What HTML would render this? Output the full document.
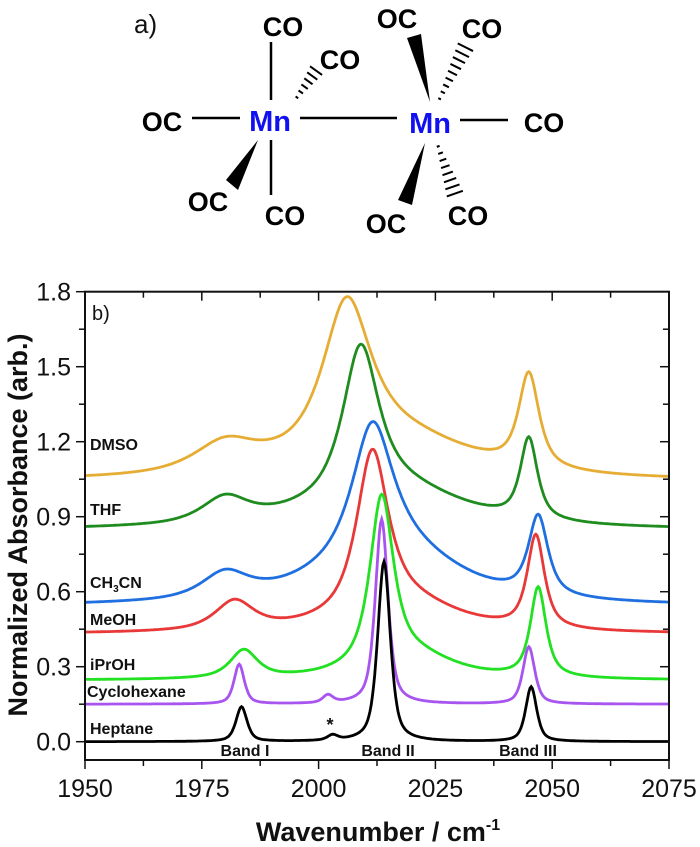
<!DOCTYPE html>
<html><head><meta charset="utf-8"><style>
body{margin:0;background:#fff;}
svg{display:block;font-family:"Liberation Sans",Arial,sans-serif;}
.m{font-size:27px;font-weight:bold;fill:#000;}
.mn{font-size:29px;font-weight:bold;fill:#1010f0;}
.s{font-size:16px;font-weight:bold;fill:#111;}
.t{font-size:25px;fill:#111;}
</style></head><body>
<svg id="sv" width="700" height="847" viewBox="0 0 700 847" xmlns="http://www.w3.org/2000/svg">
<text x="134" y="33" style="font-size:26px;fill:#111">a)</text>
<text class="m" x="283" y="36" text-anchor="middle">CO</text>
<text class="m" x="340" y="69" text-anchor="middle">CO</text>
<text class="m" x="162" y="131" text-anchor="middle">OC</text>
<text class="m" x="208" y="211" text-anchor="middle">OC</text>
<text class="m" x="285" y="225" text-anchor="middle">CO</text>
<text class="m" x="397" y="28" text-anchor="middle">OC</text>
<text class="m" x="482" y="38" text-anchor="middle">CO</text>
<text class="m" x="544" y="132" text-anchor="middle">CO</text>
<text class="m" x="386" y="233" text-anchor="middle">OC</text>
<text class="m" x="468" y="225" text-anchor="middle">CO</text>
<text class="mn" x="270" y="131" text-anchor="middle">Mn</text>
<text class="mn" x="430" y="133" text-anchor="middle">Mn</text>
<g stroke="#000" stroke-width="2.5">
<line x1="271" y1="42" x2="271" y2="100"/>
<line x1="271" y1="140" x2="271" y2="195"/>
<line x1="192" y1="118" x2="240" y2="118"/>
<line x1="300" y1="118" x2="397" y2="118"/>
<line x1="460" y1="120" x2="508" y2="120"/>
</g>
<g fill="#000">
<polygon points="258,140 226,180 238,190"/>
<polygon points="430,102 407,38 421,34"/>
<polygon points="425,143 398,200 412,205"/>
</g>
<g id="hash" stroke="#000" stroke-width="2"></g>
<g id="plot"></g>
<rect x="85" y="291.7" width="584" height="468.3" fill="none" stroke="#111" stroke-width="2"/>
<text x="92" y="320" style="font-size:20px;fill:#111">b)</text>
<text class="s" x="90" y="450">DMSO</text>
<text class="s" x="90" y="515">THF</text>
<text class="s" x="90" y="588">CH<tspan dy="4" font-size="10">3</tspan><tspan dy="-4">CN</tspan></text>
<text class="s" x="90" y="625">MeOH</text>
<text class="s" x="90" y="670">iPrOH</text>
<text class="s" x="87" y="697">Cyclohexane</text>
<text class="s" x="90" y="734">Heptane</text>
<text class="s" x="245" y="756" text-anchor="middle">Band I</text>
<text class="s" x="388" y="756" text-anchor="middle">Band II</text>
<text class="s" x="528" y="756" text-anchor="middle">Band III</text>
<text class="s" x="330" y="731" text-anchor="middle" style="font-size:18px">*</text>
<text x="27" y="525" transform="rotate(-90 27 525)" text-anchor="middle" style="font-size:27px;font-weight:bold;fill:#111">Normalized Absorbance (arb.)</text>
<text x="378" y="841" text-anchor="middle" style="font-size:27px;font-weight:bold;fill:#111">Wavenumber / cm<tspan dy="-11" font-size="16">-1</tspan></text>
</svg>
<script>
const NS="http://www.w3.org/2000/svg";
function el(t,a,p){const e=document.createElementNS(NS,t);for(const k in a)e.setAttribute(k,a[k]);p.appendChild(e);return e;}
const h=document.getElementById('hash');
function hashw(x1,y1,x2,y2,n,wmax){const dx=x2-x1,dy=y2-y1,L=Math.hypot(dx,dy),px=-dy/L,py=dx/L;
for(let i=0;i<n;i++){const f=(i+0.5)/n,cx=x1+dx*f,cy=y1+dy*f,w=wmax*f+1;el('line',{x1:cx-px*w,y1:cy-py*w,x2:cx+px*w,y2:cy+py*w},h);}}
hashw(295,100,318,68,6,7);hashw(438,102,467,44,9,8);hashw(437,143,456,197,8,8);
const X=w=>85+(w-1950)*584/125, Y=a=>741.7-250*a;
const p=document.getElementById('plot');
for(let w=1950;w<=2075;w+=12.5){const maj=(w%25===0);const l=maj?9:6;
el('line',{x1:X(w),y1:760,x2:X(w),y2:760+l,stroke:'#111','stroke-width':1.5},p);
el('line',{x1:X(w),y1:291.7,x2:X(w),y2:291.7+l,stroke:'#111','stroke-width':1.5},p);
if(maj){const t=el('text',{x:X(w),y:797,'text-anchor':'middle',class:'t'},p);t.textContent=w;}}
for(let i=0;i<=12;i++){const a=i*0.15,maj=i%2===0,l=maj?9:6;
el('line',{x1:85,y1:Y(a),x2:85-l,y2:Y(a),stroke:'#111','stroke-width':1.5},p);
el('line',{x1:669,y1:Y(a),x2:669-l,y2:Y(a),stroke:'#111','stroke-width':1.5},p);
if(maj){const t=el('text',{x:71,y:Y(a)+9,'text-anchor':'end',class:'t'},p);t.textContent=a.toFixed(1);}}
function prof(x,c,w,eta){const d=(x-c)/w;return eta/(1+d*d)+(1-eta)*Math.exp(-Math.LN2*d*d);}
function solve(A,b){const n=b.length;A=A.map((r,i)=>[...r,b[i]]);
for(let i=0;i<n;i++){let m=i;for(let k=i+1;k<n;k++)if(Math.abs(A[k][i])>Math.abs(A[m][i]))m=k;[A[i],A[m]]=[A[m],A[i]];
for(let k=0;k<n;k++)if(k!==i){const f=A[k][i]/A[i][i];for(let j=i;j<=n;j++)A[k][j]-=f*A[i][j];}}
return A.map((r,i)=>r[n]/r[i]);}
const S=[
['#e6ad35',1.04,0.8,[[1980,8,1980,1.22],[2006,6,2006,1.78],[2045,2.6,2045,1.48],[2015,20,2036,1.17]]],
['#1f8c1f',0.845,0.8,[[1980,6,1980,0.99],[2009,4.5,2009,1.59],[2045,2.2,2045,1.22],[2015,18,2035,0.95]]],
['#1f6fe0',0.54,0.8,[[1980,6,1980,0.69],[2011.5,5,2011.5,1.28],[2047,2.5,2047,0.91],[2015,16,2036,0.66]]],
['#e83838',0.43,0.8,[[1982,5,1982,0.57],[2011.5,4,2011.5,1.17],[2046.5,2.2,2046.5,0.83],[2018,14,2037,0.50]]],
['#22e022',0.245,0.8,[[1984,3.5,1984,0.37],[2013.5,3,2013.5,0.99],[2047,2,2047,0.62],[2020,11,2038,0.29]]],
['#a855f0',0.15,0.6,[[1983,1.3,1983,0.31],[2002,1.3,2002,0.19],[2013.5,1.6,2013.5,0.89],[2045,1.5,2045,0.38]]],
['#000',0,0.6,[[1983.5,1.4,1983.5,0.14],[2003,1.3,2003,0.03],[2014,1.6,2014,0.72],[2045.5,1.4,2045.5,0.22]]]];
for(const [c,b,eta,pk] of S){
const M=pk.map(q=>pk.map(r=>prof(q[2],r[0],r[1],eta)));const amps=solve(M,pk.map(q=>q[3]-b));
let d='';for(let w=1950;w<=2075;w+=0.25){let a=b;pk.forEach((r,i)=>a+=amps[i]*prof(w,r[0],r[1],eta));d+=(d?'L':'M')+X(w).toFixed(1)+','+Y(a).toFixed(1);}
el('path',{d,fill:'none',stroke:c,'stroke-width':2.8},p);}
</script>
</body></html>
